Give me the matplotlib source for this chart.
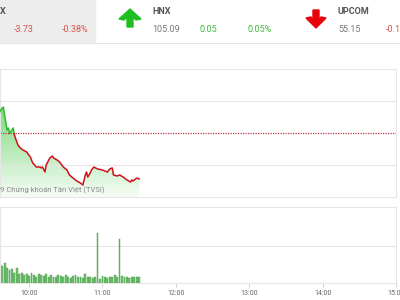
import numpy as np
import matplotlib
matplotlib.use('Agg')
import matplotlib.pyplot as plt
from matplotlib.patches import Polygon, Rectangle

plt.rcParams['font.family'] = ['Roboto', 'DejaVu Sans']

# index quotes shown in the top banner
vn_change = ['-3.73', '-0.38%']
hnx_quote = ['105.09', '0.05', '0.05%']
upcom_quote = ['55.15', '-0.1']

# intraday VN-Index (morning session)
price_times = ['9:36', '9:38', '9:39', '9:40', '9:42', '9:43', '9:44', '9:46', '9:47', '9:48',
               '9:50', '9:51', '9:52', '9:55', '9:58', '10:01', '10:03', '10:06', '10:09', '10:10',
               '10:11', '10:13', '10:14', '10:17', '10:19', '10:20', '10:23', '10:25', '10:28', '10:31',
               '10:33', '10:36', '10:39', '10:42', '10:44', '10:46', '10:47', '10:48', '10:50', '10:51',
               '10:53', '10:56', '11:00', '11:04', '11:06', '11:08', '11:09', '11:12', '11:14', '11:17',
               '11:20', '11:23', '11:24', '11:25', '11:27', '11:28', '11:30']
price_values = [986.64, 986.95, 987.03, 986.41, 985.23, 985.39, 985.00, 985.23, 985.39, 984.84,
                984.30, 984.06, 983.91, 983.67, 983.52, 983.13, 982.66, 982.34, 982.34, 982.27,
                982.34, 981.95, 982.50, 983.05, 983.20, 983.05, 982.89, 982.73, 982.34, 982.11,
                981.72, 981.48, 981.25, 981.09, 980.94, 981.72, 981.95, 981.56, 981.88, 982.11,
                982.34, 982.19, 982.11, 981.95, 982.19, 982.27, 981.72, 981.64, 981.72, 981.56,
                981.33, 981.17, 981.33, 981.25, 981.41, 981.48, 981.41]
reference_price = 985.0

# matched volume every two minutes
volume_start = '9:36'
volume_values = [1.0, 0.9, 1.1, 0.8, 0.7, 0.75, 0.55, 0.8, 0.5, 0.55,
                 0.45, 0.5, 0.4, 0.55, 0.45, 0.35, 0.5, 0.45, 0.4, 0.5,
                 0.35, 0.45, 0.3, 0.35, 0.45, 0.4, 0.3, 0.45, 0.35, 0.25,
                 0.4, 0.45, 0.3, 0.35, 0.25, 0.5, 0.3, 0.35, 0.25, 0.3,
                 2.7, 0.2, 0.4, 0.3, 0.25, 0.35, 0.3, 0.45, 0.35, 2.4,
                 0.4, 0.35, 0.3, 0.25, 0.35, 0.3, 0.35, 0.3]

hour_ticks = ['10:00', '11:00', '12:00', '13:00', '14:00', '15:00']


def to_hours(s):
    h, m = s.split(':')
    return int(h) + int(m) / 60.0


t = np.array([to_hours(s) for s in price_times])
p = np.array(price_values)
vt = to_hours(volume_start) + np.arange(len(volume_values)) * 2 / 60.0
ticks = [to_hours(s) for s in hour_ticks]
x_min, x_max = 9.604, 15.0

grid_col = '#e6e6e6'
fig = plt.figure(figsize=(4, 3), dpi=100)

# ---- banner ----
ban = fig.add_axes([0, 0, 1, 1])
ban.set_xlim(0, 400)
ban.set_ylim(300, 0)
ban.axis('off')
ban.add_patch(Rectangle((0, 0), 95, 42, color='#ededed', zorder=0))
ban.axhline(42.5, color='#e4e4e4', lw=0.8)
ban.text(0, 12, 'X', fontsize=6.5, fontweight='bold', color='#555', va='center')
ban.text(14, 30, vn_change[0], fontsize=6.5, color='#d9534f', va='center')
ban.text(62, 30, vn_change[1], fontsize=6.5, color='#d9534f', va='center')
ban.add_patch(Polygon([(130, 9), (141, 19), (136, 20), (133, 17), (133, 27), (127, 27),
                       (127, 17), (124, 20), (119, 19)], closed=True, color='#1fbf1f'))
ban.text(152, 12, 'HNX', fontsize=6.5, fontweight='bold', color='#555', va='center')
ban.text(152, 30, hnx_quote[0], fontsize=6.5, color='#777', va='center')
ban.text(200, 30, hnx_quote[1], fontsize=6.5, color='#3cb83c', va='center')
ban.text(248, 30, hnx_quote[2], fontsize=6.5, color='#3cb83c', va='center')
ban.add_patch(Polygon([(316, 28), (326, 18), (321, 17), (319, 20), (319, 10), (313, 10),
                       (313, 20), (311, 17), (306, 18)], closed=True, color='#e8000b'))
ban.text(338, 12, 'UPCOM', fontsize=6.5, fontweight='bold', color='#555', va='center')
ban.text(338, 30, upcom_quote[0], fontsize=6.5, color='#777', va='center')
ban.text(386, 30, upcom_quote[1], fontsize=6.5, color='#d9534f', va='center')

# ---- price panel ----
ax = fig.add_axes([0, 1 - 197 / 300, 396 / 400, 128 / 300])
y_lo, y_hi = 980.0, 990.0
grad = np.zeros((256, 1, 4))
grad[:, 0, 0] = 0.40
grad[:, 0, 1] = 0.83
grad[:, 0, 2] = 0.40
grad[:, 0, 3] = np.linspace(0.06, 0.85, 256)
im = ax.imshow(grad, extent=[t[0], t[-1], y_lo, p.max()], origin='lower', aspect='auto', zorder=1)
area = Polygon(list(zip(t, p)) + [(t[-1], y_lo), (t[0], y_lo)], closed=True,
               facecolor='none', edgecolor='none')
ax.add_patch(area)
im.set_clip_path(area)

above = Rectangle((x_min - 1, reference_price), 10, 20, transform=ax.transData)
below = Rectangle((x_min - 1, reference_price - 20), 10, 20, transform=ax.transData)
g_line, = ax.plot(t, p, color='#2dbb2d', lw=1.1, zorder=3)
g_line.set_clip_path(above)
r_line, = ax.plot(t, p, color='#d0101b', lw=1.1, zorder=3)
r_line.set_clip_path(below)
ax.axhline(reference_price, color='#c0394b', lw=0.9, ls=(0, (1, 1)), zorder=2)

ax.set_xlim(x_min, x_max)
ax.set_ylim(y_lo, y_hi)
ax.set_yticks([982.5, 987.5])
ax.yaxis.grid(True, color=grid_col, lw=0.8)
ax.set_xticks([])
ax.tick_params(left=False, labelleft=False)
for s in ax.spines.values():
    s.set_color(grid_col)
ax.text(0.0, 190, '9 Chứng khoán Tân Việt (TVSI)', transform=ban.transData,
        fontsize=5.5, color='#8a8a8a', va='center')

# ---- volume panel ----
vx = fig.add_axes([0, 1 - 283 / 300, 396 / 400, 76 / 300])
vx.bar(vt, volume_values, width=1.5 / 60, color='#72c172', edgecolor='#3f9b3f', lw=0.3, zorder=2)
vx.set_xlim(x_min, x_max)
vx.set_ylim(0, 4.1)
vx.set_yticks([2])
vx.yaxis.grid(True, color=grid_col, lw=0.8)
vx.tick_params(left=False, labelleft=False)
vx.set_xticks(ticks)
vx.set_xticklabels(hour_ticks)
vx.tick_params(axis='x', length=3, width=0.6, color='#cccccc', labelsize=5, labelcolor='#666', pad=2)
for s in vx.spines.values():
    s.set_color(grid_col)

fig.savefig('out.png', dpi=100)
